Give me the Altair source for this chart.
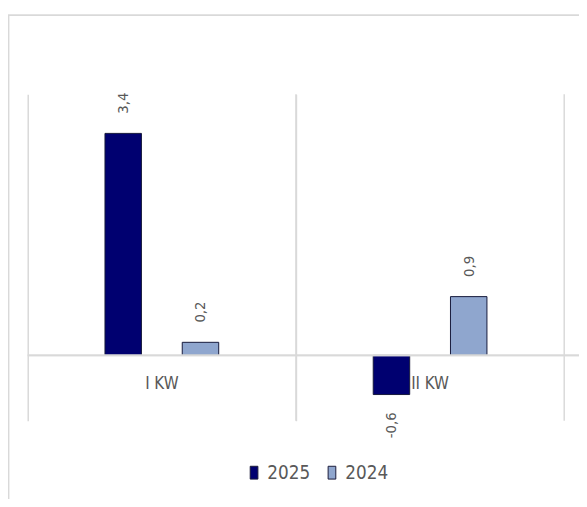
import altair as alt
import pandas as pd

categories = ["I KW", "II KW"]
series = ["2025", "2024"]
values_2025 = [3.4, -0.6]
values_2024 = [0.2, 0.9]

rows = []
for i, c in enumerate(categories):
    for s, vals in zip(series, [values_2025, values_2024]):
        v = vals[i]
        rows.append({"cat": c, "year": s, "v": v, "label": f"{v:.1f}".replace(".", ",")})
df = pd.DataFrame(rows)
cats_df = pd.DataFrame({"cat": categories})

W, H = 544, 331
NARROW = "Liberation Sans Narrow, DejaVu Sans Condensed, Roboto, sans-serif"
GRID = "#D9D9D9"
TXT = "#595959"

xs = alt.Scale(domain=categories, paddingInner=0, paddingOuter=0)
ys = alt.Scale(domain=[-1, 4], nice=False, zero=False)
xoff = alt.XOffset("year:N", scale=alt.Scale(domain=series, paddingInner=0.528, paddingOuter=1))
color = alt.Color(
    "year:N",
    scale=alt.Scale(domain=series, range=["#000070", "#8FA6CE"]),
    legend=alt.Legend(
        title=None, orient="none", direction="horizontal", legendX=220, legendY=374,
        symbolType="M-0.6,-1H0.6V1H-0.6Z", symbolSize=169, symbolStrokeColor="#1a1a3a",
        symbolStrokeWidth=1, labelFont=NARROW, labelFontSize=19, labelColor=TXT,
        labelOffset=4, columnPadding=12, symbolOpacity=1,
    ),
)

base = alt.Chart(df)

bars = base.mark_bar(stroke="#15183a", strokeWidth=1).encode(
    x=alt.X("cat:N", scale=xs, axis=alt.Axis(grid=True, bandPosition=0, labels=False, ticks=False,
                                             domain=False, title=None, gridColor=GRID, gridWidth=1.5)),
    xOffset=xoff,
    y=alt.Y("v:Q", scale=ys, axis=None),
    y2=alt.datum(0),
    color=color,
)

lab_pos = base.transform_filter("datum.v >= 0").mark_text(
    angle=270, align="left", baseline="middle", dx=20, font=NARROW, fontSize=15, color=TXT
).encode(x=alt.X("cat:N", scale=xs), xOffset=xoff, y=alt.Y("v:Q", scale=ys), text="label:N")

lab_neg = base.transform_filter("datum.v < 0").mark_text(
    angle=270, align="right", baseline="middle", dx=-18, font=NARROW, fontSize=15, color=TXT
).encode(x=alt.X("cat:N", scale=xs), xOffset=xoff, y=alt.Y("v:Q", scale=ys), text="label:N")

cat_labels = alt.Chart(cats_df).mark_text(
    dy=29, font=NARROW, fontSize=17, color=TXT, baseline="middle"
).encode(x=alt.X("cat:N", scale=xs), y=alt.Y("z:Q", scale=ys), text="cat:N").transform_calculate(z="0")

right_grid = alt.Chart(cats_df).mark_rule(color=GRID, strokeWidth=1.5).encode(
    x=alt.X("cat:N", scale=xs, bandPosition=1), y=alt.value(0), y2=alt.value(H)
)

zero = alt.Chart(cats_df).mark_rule(color=GRID, strokeWidth=2).encode(
    y=alt.Y("z:Q", scale=ys), x=alt.value(0), x2=alt.value(W + 20)
).transform_calculate(z="0")

frame_left = alt.Chart(cats_df).mark_rule(color=GRID, strokeWidth=1.5).encode(
    x=alt.value(-19.5), y=alt.value(-80), y2=alt.value(H + 80)
)

frame_top = alt.Chart(cats_df).mark_rule(color=GRID, strokeWidth=1.5).encode(
    y=alt.Y("z:Q", scale=ys), x=alt.value(-20), x2=alt.value(W + 20)
).transform_calculate(z="5.2085")

chart = alt.layer(
    bars, lab_pos, lab_neg, cat_labels, right_grid, zero, frame_left, frame_top
).properties(
    width=W, height=H,
    title=alt.TitleParams(
        "WYNIK NETTO, I-II KWARTAL 2025 VS 2024 [MLNPLN]",
        font=NARROW, fontSize=17, fontWeight="bold", color=TXT, anchor="middle",
        frame="group", offset=38, dx=-4,
    ),
    autosize=alt.AutoSizeParams(type="none"),
    padding={"left": 20, "top": 84, "right": 15, "bottom": 76},
).configure_view(stroke=None)

chart.save("out.html", embed_options={"renderer": "svg", "actions": False})
